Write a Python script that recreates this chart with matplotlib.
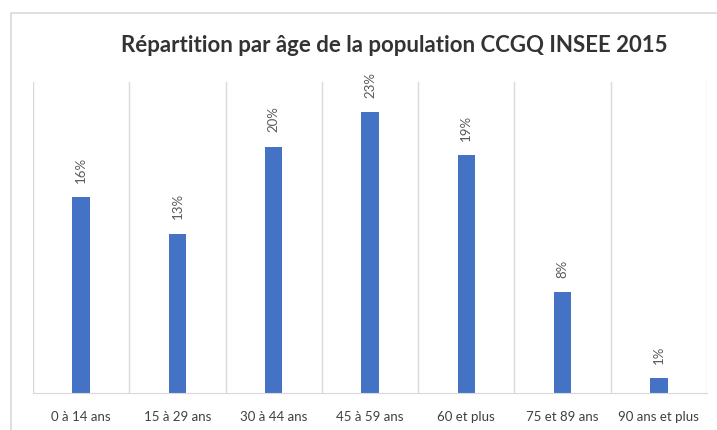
import matplotlib
matplotlib.use("Agg")
import matplotlib.pyplot as plt
from matplotlib.patches import Rectangle
import numpy as np

# age groups and share of population (CCGQ, INSEE 2015)
categories = ["0 à 14 ans", "15 à 29 ans", "30 à 44 ans", "45 à 59 ans",
              "60 et plus", "75 et 89 ans", "90 ans et plus"]
shares = [0.160, 0.130, 0.201, 0.229, 0.194, 0.082, 0.012]
title = "Répartition par âge de la population CCGQ INSEE 2015"

plt.rcParams['font.family'] = ['Lato', 'DejaVu Sans']

fig = plt.figure(figsize=(7.17, 4.31), dpi=100)
ax = fig.add_axes([33 / 717, 37 / 431, 674 / 717, 311 / 431])

# light frame around the chart (cut off at right and bottom like the screenshot)
fig.patches.append(Rectangle((11 / 717, -0.1), 1.2, (431 - 14) / 431 + 0.1,
                             transform=fig.transFigure, fill=False,
                             edgecolor="#d9d9d9", linewidth=1.2))

x = np.arange(len(categories))
ax.bar(x, shares, width=0.18, color="#4472c4")

for xi, v in zip(x, shares):
    ax.text(xi, v + 0.0125, f"{v:.0%}", rotation=90, ha="center", va="bottom",
            fontsize=9.5, color="#595959")

ax.set_xlim(-0.5, len(categories) - 0.5)
ax.set_ylim(0, 0.2537)
ax.set_xticks(x)
ax.set_xticklabels(categories, fontsize=9.5, color="#404040")
ax.tick_params(axis="x", length=0, pad=12)
ax.set_yticks([])

# vertical separators between categories
for b in np.arange(-0.5, len(categories), 1.0):
    ax.axvline(b, color="#d9d9d9", linewidth=1, zorder=0)

for s in ["top", "left", "right"]:
    ax.spines[s].set_visible(False)
ax.spines["bottom"].set_color("#d9d9d9")

fig.text(394 / 717, 1 - 45 / 431, title, ha="center", va="center",
         fontsize=16, fontweight="bold", color="#333333")

fig.savefig("out.png", dpi=100)
